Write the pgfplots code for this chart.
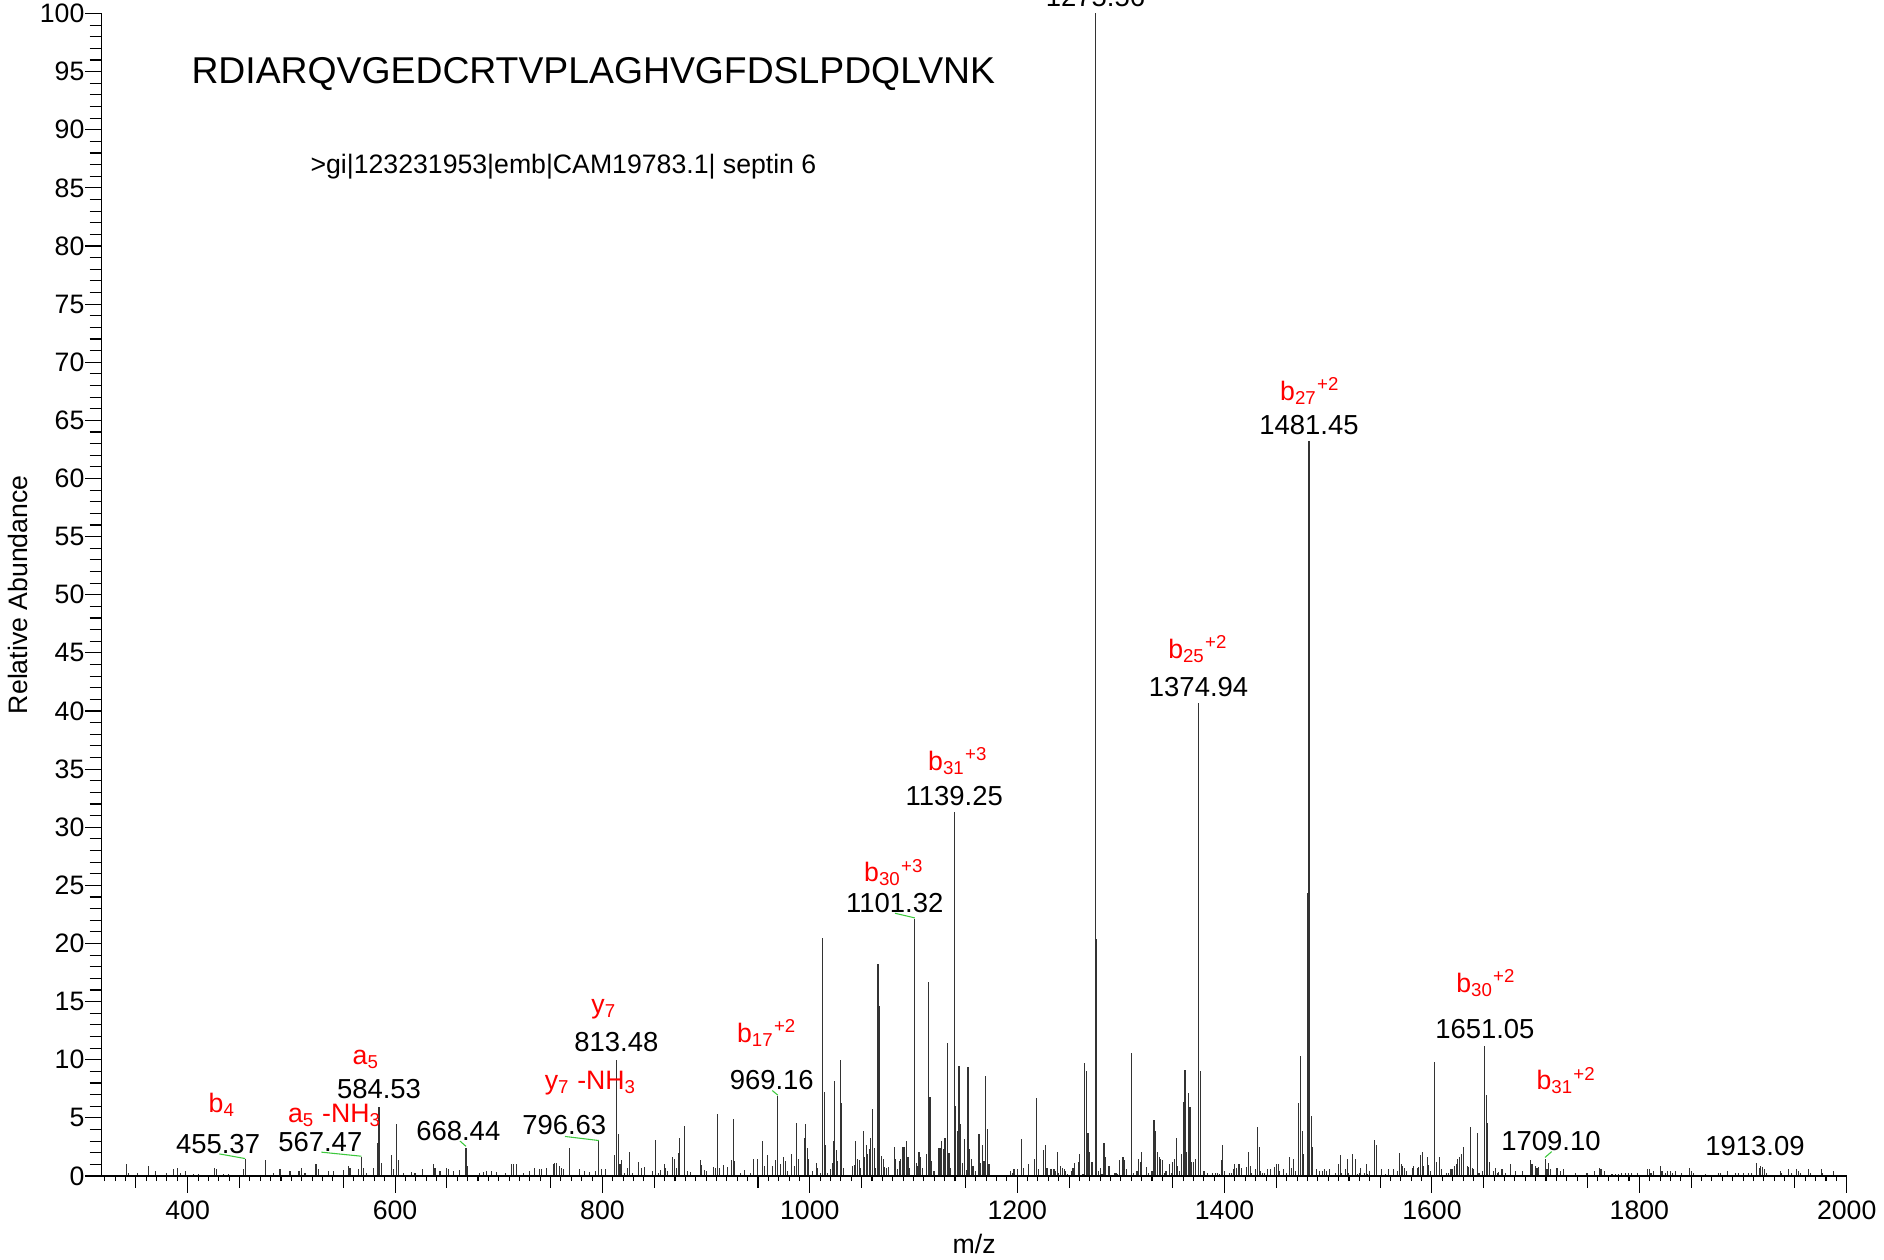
\documentclass[border=0pt]{standalone}
\usepackage{fontspec}
\setmainfont{Liberation Sans}
\usepackage{pgfplots}
\pgfplotsset{compat=1.18}
\definecolor{lblred}{RGB}{255,0,0}
\definecolor{leadgreen}{RGB}{60,200,60}
\newcommand{\numfont}{\fontsize{10.3}{12}\selectfont}
\newcommand{\ionfont}{\fontsize{10}{12}\selectfont}
\newcommand{\pnum}[3]{\node[anchor=base, inner sep=0pt, font=\numfont, text=black] at (axis cs:#1,#2) {#3};}
\newcommand{\pion}[3]{\node[anchor=base, inner sep=0pt, font=\ionfont, text=lblred] at (axis cs:#1,#2) {#3};}
\newcommand{\lead}[4]{\draw[leadgreen, line width=0.4pt] (axis cs:#1,#2) -- (axis cs:#3,#4);}
\begin{document}
\begin{tikzpicture}[font=\fontsize{10}{12}\selectfont]
\begin{axis}[
  name=ax,
  scale only axis,
  width=654.375pt, height=435.94pt,
  xmin=317.1, xmax=2000, ymin=0, ymax=100,
  axis x line*=bottom, axis y line*=left,
  axis line style={-, line width=0.45pt},
  tick align=outside,
  major tick length=6.3pt, minor tick length=4.5pt,
  tick style={line width=0.4pt, black},
  xtick={400,600,...,2000},
  ytick={0,5,...,100},
  minor ytick={1,2,...,99},
  /pgf/number format/assume math mode=true,
  /pgf/number format/set thousands separator={},
  xticklabel style={anchor=base, inner sep=0pt, yshift=-9.9pt},
  yticklabel style={anchor=east, inner sep=0pt},
  every axis y label/.style={at={(rel axis cs:0,0.5)}, xshift=-31.4pt, rotate=90, anchor=center},
  every axis x label/.style={at={(rel axis cs:0.5,0)}, yshift=-28.9pt, anchor=base},
  ylabel={Relative Abundance},
  xlabel={m/z},
  clip=false,
]
\addplot[ycomb, mark=none, black!80, line width=0.42pt] table {
341.4 1.0
343.0 0.3
351.9 0.3
362.2 0.9
368.6 0.4
379.9 0.3
386.3 0.6
390.1 0.7
392.7 0.3
397.5 0.4
405.6 0.15
410.4 0.15
425.5 0.7
427.4 0.6
434.5 0.15
439.3 0.15
453.7 0.6
455.37 1.45
475.3 1.35
482.6 0.3
489.1 0.6
498.7 0.4
507.4 0.4
509.9 0.7
513.2 0.3
523.8 1.0
526.0 0.6
535.7 0.4
540.5 0.4
550.1 0.5
555.0 0.9
556.6 0.7
564.6 0.6
567.47 1.6
569.4 0.7
572.6 0.3
579.0 0.7
583.2 2.8
584.53 5.95
587.0 1.15
596.6 1.8
598.3 0.6
601.5 4.45
603.1 1.4
607.9 0.3
616.0 0.35
619.2 0.3
626.6 0.6
636.8 1.0
638.5 0.7
643.3 0.4
649.7 0.7
651.3 0.6
656.1 0.4
662.5 0.5
668.44 2.45
669.9 0.9
681.8 0.3
685.1 0.35
688.3 0.4
693.1 0.4
697.9 0.35
706.9 0.3
712.4 1.0
714.0 1.0
717.2 1.0
723.6 0.3
730.0 0.4
734.9 0.7
739.1 0.6
741.3 0.6
746.1 0.7
752.5 1.05
754.1 1.15
755.7 1.15
758.3 0.9
760.5 0.7
762.8 0.6
767.9 2.4
778.2 0.6
783.0 0.4
787.8 0.35
793.6 0.4
796.63 3.0
799.1 0.6
803.3 0.6
811.9 1.8
813.48 9.95
815.1 3.6
816.9 1.06
818.2 1.35
821.1 0.3
824.3 0.7
825.9 2.1
829.1 0.3
834.9 1.2
838.1 0.7
840.4 0.8
848.4 0.4
851.0 3.1
854.2 0.3
856.4 0.5
859.6 1.0
861.2 0.66
862.8 0.43
867.7 1.6
869.3 1.44
871.5 0.66
873.1 1.95
874.7 3.25
879.5 4.3
882.1 0.43
885.3 0.37
894.3 1.35
895.9 0.95
898.2 0.5
900.4 0.43
907.2 0.8
908.8 0.72
911.0 5.3
912.6 0.72
916.5 0.95
920.7 0.8
924.5 1.35
926.1 4.9
927.7 1.25
933.5 0.3
937.4 0.5
943.1 0.3
945.7 1.5
949.6 1.44
954.4 3.0
956.6 0.86
959.2 1.8
964.0 0.86
967.2 1.35
969.16 6.85
972.0 1.0
974.6 1.6
976.2 1.3
978.5 0.43
982.6 1.9
984.9 0.86
987.5 4.6
989.1 1.5
994.5 3.3
996.1 4.45
997.7 2.4
998.7 1.44
1002.6 0.43
1006.4 1.15
1007.4 0.7
1010.6 0.3
1012.5 20.5
1014.0 7.2
1015.4 2.7
1017.0 0.3
1019.6 0.57
1021.8 1.15
1022.8 3.0
1024.1 8.2
1025.7 2.2
1026.7 1.3
1029.2 10.0
1030.8 6.3
1032.4 0.7
1041.1 0.86
1042.7 0.95
1044.3 3.0
1045.9 1.44
1047.5 1.35
1049.1 0.7
1051.4 3.9
1053.0 1.6
1054.6 2.7
1055.6 1.9
1057.2 2.3
1058.8 3.3
1060.4 5.8
1062.0 2.4
1063.6 0.7
1065.8 18.2
1067.4 14.65
1069.0 1.7
1070.7 1.5
1072.3 0.8
1073.9 0.7
1075.5 0.8
1081.3 2.5
1082.9 1.44
1084.5 0.57
1086.1 1.3
1087.7 1.44
1089.9 2.5
1091.5 2.5
1093.1 3.0
1094.7 1.6
1096.3 0.7
1101.32 22.1
1102.6 1.15
1103.7 0.86
1105.3 2.1
1107.0 1.6
1108.6 0.7
1112.4 1.9
1114.3 16.7
1115.9 6.8
1117.5 1.3
1119.8 0.43
1124.0 2.4
1125.6 2.4
1127.2 3.0
1128.8 2.3
1130.4 3.25
1132.6 11.4
1134.2 2.0
1135.9 0.7
1139.25 31.3
1140.7 6.0
1142.3 3.9
1143.9 9.5
1145.5 4.45
1147.1 1.15
1149.3 3.15
1150.9 0.5
1152.6 9.4
1154.2 2.3
1155.8 1.44
1157.4 0.86
1160.0 0.43
1163.2 3.6
1164.8 1.15
1166.4 2.7
1168.0 1.3
1169.6 8.6
1171.2 4.0
1172.8 1.0
1193.7 0.43
1195.1 0.3
1196.9 0.57
1200.5 0.6
1204.1 3.2
1205.7 0.7
1210.5 1.0
1216.9 1.45
1218.8 6.7
1220.4 0.6
1225.6 2.2
1227.2 2.7
1228.8 0.7
1232.6 0.6
1235.5 0.6
1237.1 0.43
1238.7 2.1
1240.0 0.3
1242.0 0.86
1243.6 0.7
1245.2 0.57
1246.8 0.43
1248.4 0.15
1252.2 0.43
1253.8 0.7
1255.4 1.15
1258.7 1.2
1260.3 1.9
1263.5 0.15
1265.1 9.7
1266.7 9.0
1268.3 3.7
1269.9 2.1
1272.1 1.2
1275.56 100
1276.6 20.4
1278.6 0.43
1280.2 0.7
1281.8 0.15
1283.7 2.8
1285.3 1.6
1288.5 0.86
1293.7 0.3
1295.3 0.3
1296.9 0.15
1298.8 1.35
1302.0 1.6
1303.6 1.35
1305.5 0.57
1310.4 10.6
1312.0 0.3
1315.5 0.43
1317.1 1.5
1318.7 1.2
1320.3 2.1
1325.1 0.8
1326.7 0.3
1330.0 0.43
1331.9 4.8
1333.5 3.9
1335.4 2.1
1337.0 1.6
1338.6 1.5
1340.2 1.35
1341.8 0.3
1343.5 0.43
1347.0 1.06
1348.6 0.3
1350.2 1.2
1351.8 1.5
1353.4 3.3
1355.0 0.86
1356.6 0.43
1358.5 1.9
1360.2 6.4
1361.8 9.1
1363.4 2.1
1365.0 7.1
1366.6 5.95
1368.2 1.2
1369.8 1.2
1371.7 1.5
1374.94 40.7
1376.9 9.0
1380.1 0.43
1383.3 0.3
1388.4 0.3
1391.6 0.3
1393.2 0.3
1394.8 0.15
1396.8 1.35
1398.4 2.7
1400.0 0.43
1405.1 0.3
1406.7 0.3
1408.3 0.57
1409.9 1.0
1411.5 0.7
1413.2 1.0
1414.8 1.0
1416.4 0.7
1421.5 0.8
1423.1 2.1
1424.7 0.86
1426.3 0.3
1429.9 0.57
1431.8 4.2
1433.4 2.5
1435.0 0.43
1436.6 0.3
1438.2 0.3
1441.4 0.57
1444.6 0.57
1448.2 0.8
1449.8 1.0
1451.7 1.0
1453.3 0.43
1456.5 0.57
1459.7 0.3
1462.9 1.6
1464.5 0.7
1466.1 1.5
1468.1 0.43
1471.3 6.3
1473.2 10.3
1474.8 3.9
1476.4 1.9
1480.0 24.3
1481.45 63.2
1483.5 5.2
1485.1 2.5
1488.3 0.57
1491.5 0.43
1494.7 0.43
1496.3 0.57
1497.9 0.43
1501.5 0.57
1506.6 0.3
1509.8 1.06
1511.4 1.8
1513.0 0.3
1516.6 0.57
1518.2 1.5
1519.8 0.3
1523.3 1.9
1526.5 1.5
1528.1 0.15
1529.7 0.3
1531.3 0.7
1534.9 0.3
1536.5 1.0
1538.1 0.15
1540.0 0.43
1544.8 3.1
1546.4 2.7
1551.6 0.57
1554.8 0.15
1558.0 0.57
1563.1 0.57
1566.4 0.43
1568.7 1.95
1570.3 1.0
1571.9 0.86
1573.5 0.72
1575.1 0.43
1580.9 0.72
1582.5 0.86
1585.7 0.72
1587.3 0.78
1588.9 1.8
1590.5 2.07
1592.1 0.86
1595.3 1.6
1596.9 0.92
1598.5 0.43
1602.7 9.8
1604.0 1.2
1607.2 1.6
1608.8 0.57
1613.6 0.3
1616.2 0.3
1618.4 0.57
1620.0 0.57
1621.7 0.86
1623.3 1.0
1624.9 1.45
1626.5 1.67
1628.4 1.87
1630.6 2.5
1633.9 0.86
1635.5 0.78
1637.1 4.2
1638.7 0.72
1640.3 0.57
1643.8 3.7
1645.4 0.3
1649.0 0.43
1651.05 11.15
1652.2 7.0
1653.8 4.6
1655.7 1.2
1659.2 0.43
1661.2 0.72
1662.8 0.23
1664.4 0.35
1667.6 0.57
1670.8 0.3
1675.6 1.0
1680.4 0.43
1686.9 0.43
1694.9 1.35
1696.5 1.0
1699.7 0.86
1701.3 0.72
1702.9 0.78
1709.10 1.5
1711.0 0.57
1712.5 1.15
1714.2 0.57
1720.6 0.72
1723.8 0.43
1727.0 0.57
1738.2 0.3
1749.5 0.3
1756.9 0.43
1761.4 0.72
1763.0 0.57
1766.5 0.43
1773.6 0.15
1776.8 0.15
1780.0 0.15
1783.2 0.23
1786.4 0.23
1789.6 0.3
1792.8 0.3
1798.6 0.3
1808.0 0.57
1809.5 0.57
1811.2 0.3
1813.7 0.43
1820.1 0.86
1821.8 0.43
1825.0 0.3
1827.5 0.43
1829.8 0.43
1832.0 0.3
1834.6 0.43
1841.0 0.3
1848.4 0.72
1850.0 0.43
1852.3 0.3
1863.5 0.15
1876.4 0.3
1878.6 0.3
1885.3 0.43
1892.4 0.3
1895.6 0.3
1900.4 0.3
1905.3 0.3
1908.5 0.3
1913.09 1.1
1915.5 0.72
1917.2 0.86
1918.8 0.78
1920.4 0.57
1922.9 0.3
1935.8 0.43
1937.4 0.3
1943.8 0.57
1947.0 0.3
1951.8 0.57
1953.4 0.43
1955.0 0.3
1963.1 0.57
1964.7 0.3
1975.3 0.57
1976.6 0.3
1987.2 0.43
};
% titles
\node[anchor=base west, inner sep=0pt, font=\fontsize{14}{16}\selectfont] at (axis cs:403.2,94.0) {RDIARQVGEDCRTVPLAGHVGFDSLPDQLVNK};
\node[anchor=base west, inner sep=0pt, font=\fontsize{10}{12}\selectfont] at (axis cs:518,86.24) {>gi|123231953|emb|CAM19783.1| septin 6};
% peak numbers
\pnum{429.3}{1.95}{455.37}
\pnum{527.9}{2.09}{567.47}
\pnum{584.53}{6.68}{584.53}
\pnum{661.0}{3.01}{668.44}
\pnum{763.2}{3.53}{796.63}
\pnum{813.48}{10.69}{813.48}
\pnum{963.3}{7.48}{969.16}
\pnum{1081.9}{22.68}{1101.32}
\pnum{1139.25}{31.83}{1139.25}
\pnum{1275.56}{100.58}{1275.56}
\pnum{1374.94}{41.25}{1374.94}
\pnum{1481.45}{63.74}{1481.45}
\pnum{1651.05}{11.83}{1651.05}
\pnum{1714.8}{2.15}{1709.10}
\pnum{1911.5}{1.75}{1913.09}
% ion labels
\pion{433.1}{5.42}{b\textsubscript{4}}
\pion{541.8}{4.58}{a\textsubscript{5} -NH\textsubscript{3}}
\pion{572.0}{9.55}{a\textsubscript{5}}
\pion{788.6}{7.40}{y\textsubscript{7} -NH\textsubscript{3}}
\pion{801.5}{14.0}{y\textsubscript{7}}
\pion{958.6}{11.5}{b\textsubscript{17}\textsuperscript{+2}}
\pion{1081.2}{25.3}{b\textsubscript{30}\textsuperscript{+3}}
\pion{1142.9}{34.9}{b\textsubscript{31}\textsuperscript{+3}}
\pion{1374.4}{44.5}{b\textsubscript{25}\textsuperscript{+2}}
\pion{1482.4}{66.75}{b\textsubscript{27}\textsuperscript{+2}}
\pion{1652.2}{15.8}{b\textsubscript{30}\textsuperscript{+2}}
\pion{1729.6}{7.4}{b\textsubscript{31}\textsuperscript{+2}}
% leader lines
\lead{430.5}{1.9}{455.4}{1.5}
\lead{528.9}{2.05}{567.5}{1.7}
\lead{662.7}{3.0}{668.4}{2.55}
\lead{763.9}{3.4}{796.6}{3.05}
\lead{963.8}{7.35}{969.2}{6.95}
\lead{1082.2}{22.6}{1101.3}{22.2}
\lead{1709.1}{1.6}{1715.5}{2.1}
\end{axis}
\begin{axis}[
  scale only axis,
  width=654.375pt, height=435.94pt,
  xmin=317.1, xmax=2000, ymin=0, ymax=100,
  axis x line*=bottom, axis y line=none,
  axis line style={-, line width=0.45pt},
  tick align=outside,
  major tick length=4.5pt, minor tick length=1.9pt,
  tick style={line width=0.4pt, black},
  xtick={350,450,...,1950},
  minor xtick={320,330,...,2000},
  xticklabels={},
  ytick=\empty,
]
\addplot[draw=none, forget plot] coordinates {(400,0)};
\end{axis}
\pgfresetboundingbox
\path ([shift={(-38.14pt,-31.5pt)}]ax.south west) rectangle ([shift={(13.99pt,5.06pt)}]ax.north east);
\end{tikzpicture}
\end{document}
